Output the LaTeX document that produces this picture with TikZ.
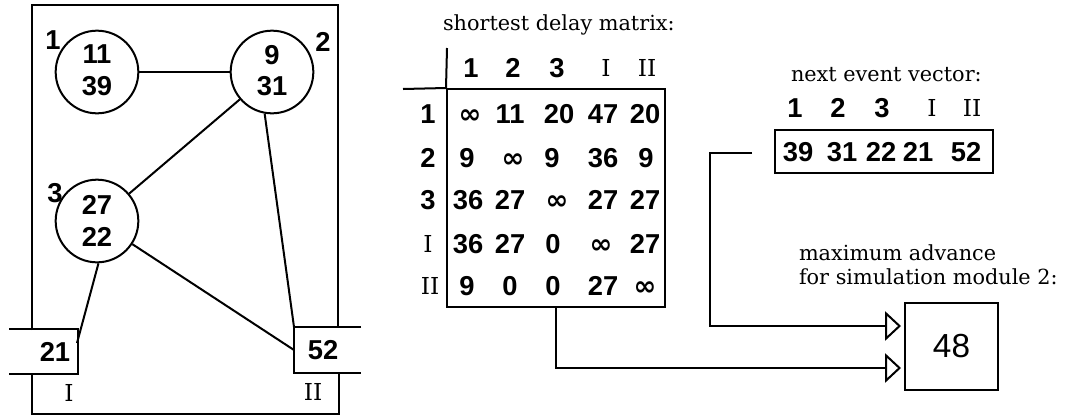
\documentclass[tikz,border=0pt]{standalone}
\usepackage{fontspec}
\usetikzlibrary{arrows.meta}
\newfontfamily\numfont{Liberation Sans}
\newfontfamily\serfont{DejaVu Serif}
\newfontfamily\symfont{DejaVu Sans}
\newcommand\inft{{\symfont\bfseries ∞}}
\begin{document}
\begin{tikzpicture}[x=0.75pt,y=-0.75pt,line width=1.5pt,
  num/.style={font=\numfont\bfseries\fontsize{20.5}{24}\selectfont, inner sep=0pt},
  cell/.style={num, anchor=base},
  rom/.style={font=\serfont\fontsize{17.5}{20}\selectfont, inner sep=0pt},
  romb/.style={rom, anchor=base},
  ttl/.style={font=\serfont\fontsize{15.6}{19}\selectfont, inner sep=0pt, anchor=base west},
  circ/.style={circle, draw, inner sep=0pt, minimum size=62pt},
  box/.style={rectangle, inner sep=0pt},
  arr/.style={-{Triangle[open, length=12pt, width=22pt]}}]
\useasboundingbox (0,0) rectangle (1069,415);

% ---------------- network of simulation modules ----------------
\node[box, minimum width=50.25pt, minimum height=32.25pt] (bI) at (43.5,351.5) {};
\node[box, minimum width=48.75pt, minimum height=33pt] (bII) at (327.5,350) {};
\draw (bI.north west) -- (bI.north east) -- (bI.south east) -- (bI.south west);
\draw (bII.north east) -- (bII.north west) -- (bII.south west) -- (bII.south east);
\node[num] (v21) at (55,352) {21};
\node[num] (v52) at (323,350) {52};
\node[rom] (lI) at (69,393) {I};
\node[rom] (lII) at (313,392) {II};

% frame of the partition
\draw (32,330) -- (32,5) -- (338,5) -- (338,328);
\draw (32,373) -- (32,414) -- (339,414) -- (339,372);

\node[circ] (c1) at (97,72) {};
\node[circ] (c2) at (272,72) {};
\node[circ] (c3) at (97,221) {};
\node[num] (c1a) at (97,54) {11};
\node[num] (c1b) at (97,86) {39};
\node[num] (c2a) at (272,55) {9};
\node[num] (c2b) at (272,86) {31};
\node[num] (c3a) at (97,205) {27};
\node[num] (c3b) at (97,237) {22};
\node[num] (n1) at (53,40) {1};
\node[num] (n2) at (323,42) {2};
\node[num] (n3) at (55,193) {3};

\coordinate (pI) at (77,343);
\draw (c1) -- (c2);
\draw (c2) -- (c3);
\draw (c2.-100) -- (bII.north west);
\draw (c3) -- (bII.west);
\draw (c3.-88) -- (pI);

% ---------------- shortest delay matrix ----------------
\node[ttl] (mt) at (442,30) {shortest delay matrix:};
\node[box, draw, minimum width=163.5pt, minimum height=163.5pt] (mbox) at (556,198) {};
\draw (447,48) -- (mbox.north west);
\draw (403,89) -- (mbox.north west);

\node[num] (h1) at (471,68) {1};
\node[num] (h2) at (513,68) {2};
\node[num] (h3) at (557,68) {3};
\node[rom] (hI) at (606,68) {I};
\node[rom] (hII) at (647,68) {II};

\node[cell] (r1) at (428,123) {1};
\node[cell] (r2) at (428,167) {2};
\node[cell] (r3) at (428,209) {3};
\node[romb] (r4) at (428,252.5) {I};
\node[romb] (r5) at (430,294.5) {II};

\node[cell] (m11) at (470,123) {\inft};
\node[cell] (m12) at (510,123) {11};
\node[cell] (m13) at (559,123) {20};
\node[cell] (m14) at (603,123) {47};
\node[cell] (m15) at (645,123) {20};

\node[cell] (m21) at (467,167) {9};
\node[cell] (m22) at (513,167) {\inft};
\node[cell] (m23) at (552,167) {9};
\node[cell] (m24) at (603,167) {36};
\node[cell] (m25) at (646,167) {9};

\node[cell] (m31) at (468,209) {36};
\node[cell] (m32) at (510,209) {27};
\node[cell] (m33) at (557,209) {\inft};
\node[cell] (m34) at (603,209) {27};
\node[cell] (m35) at (645,209) {27};

\node[cell] (m41) at (468,253) {36};
\node[cell] (m42) at (510,253) {27};
\node[cell] (m43) at (553,253) {0};
\node[cell] (m44) at (601,253) {\inft};
\node[cell] (m45) at (645,253) {27};

\node[cell] (m51) at (467,295) {9};
\node[cell] (m52) at (510,295) {0};
\node[cell] (m53) at (553,295) {0};
\node[cell] (m54) at (603,295) {27};
\node[cell] (m55) at (645,295) {\inft};

% ---------------- next event vector ----------------
\node[ttl] (vt) at (790,81) {next event vector:};
\node[num] (g1) at (795,108) {1};
\node[num] (g2) at (838,108) {2};
\node[num] (g3) at (882,108) {3};
\node[rom] (gI) at (932,108) {I};
\node[rom] (gII) at (972,108) {II};
\node[box, draw, minimum width=163.5pt, minimum height=32.25pt] (vec) at (884,151.5) {};
\node[num] (e1) at (798,152) {39};
\node[num] (e2) at (842,152) {31};
\node[num] (e3) at (881,152) {22};
\node[num] (e4) at (918,152) {21};
\node[num] (e5) at (966,152) {52};

% ---------------- result ----------------
\node[ttl] (rt1) at (798,260) {maximum advance};
\node[ttl] (rt2) at (798,284) {for simulation module 2:};
\node[box, draw, minimum width=69.75pt, minimum height=65.25pt,
      font=\numfont\fontsize{25}{28}\selectfont] (b48) at (951.5,346.5) {48};

\coordinate (vout) at (752,153);
\coordinate (bend) at (710,153);
\coordinate (in1) at (901,326);
\coordinate (in2) at (901,368);
\draw[arr] (vout) -- (bend) |- (in1);
\draw[arr] (mbox.south) |- (in2);
\end{tikzpicture}
\end{document}
